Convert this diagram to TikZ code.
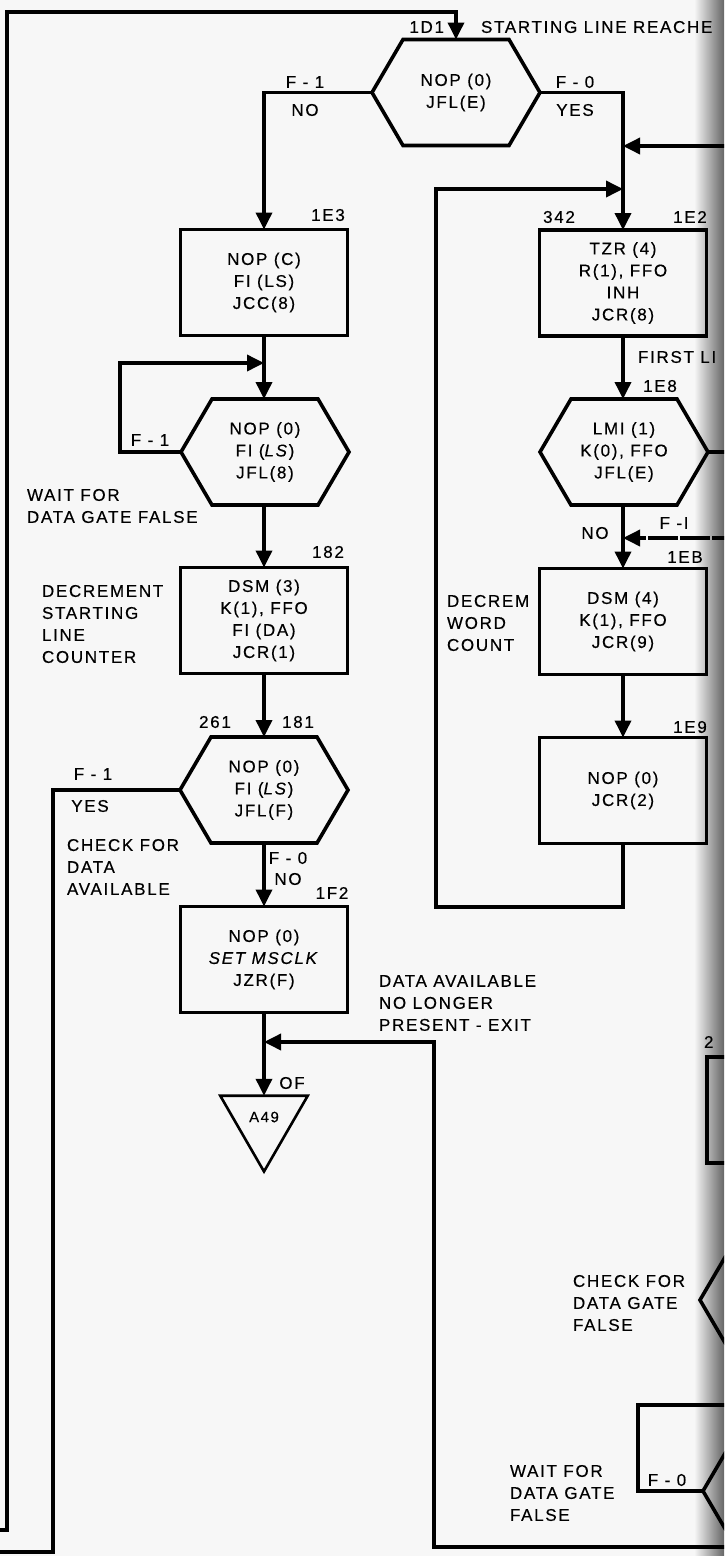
\documentclass[tikz,border=0pt]{standalone}
\usepackage{fontspec}
\setmainfont{Liberation Sans}[LetterSpace=10,FakeBold=0.35]
\usetikzlibrary{arrows.meta,shapes.geometric}
\newcommand\hexdraw[1]{%
  \draw[ln] (#1.north west) -- (#1.north east) -- ([xshift=31pt]#1.east) -- (#1.south east)
    -- (#1.south west) -- ([xshift=-31pt]#1.west) -- cycle;
  \coordinate (#1W) at ([xshift=-31pt]#1.west);
  \coordinate (#1E) at ([xshift=31pt]#1.east);}
\begin{document}
\begin{tikzpicture}[x=1pt,y=-1pt,
  every node/.style={font=\fontsize{17}{22}\selectfont, inner sep=0pt, outer sep=0pt},
  ln/.style={line width=3.6pt, line join=miter, line cap=rect},
  arr/.style={ln, -{Triangle[length=17pt,width=16pt]}},
  box/.style={draw, line width=3.6pt, minimum width=167pt, minimum height=106pt, align=center},
  hexc/.style={minimum width=106pt, minimum height=106pt, align=center},
  lbl/.style={align=left, anchor=west},
  lab/.style={anchor=center},
]
\useasboundingbox (0,0) rectangle (724,1556);
\clip (0,0) rectangle (724,1556);
\fill[white!97!black] (0,0) rectangle (724,1556);
\shade[left color=white!97!black, right color=black!60] (694,0) rectangle (724,1556);

% ---------- left column ----------
\node[hexc] (h1) at (456,92.5) {NOP (0)\\JFL(E)};
\hexdraw{h1}
\node[box] (b1e3) at (264,282.5) {NOP (C)\\FI (LS)\\JCC(8)};
\node[hexc] (h2) at (265,452) {NOP (0)\\FI (\textit{LS})\\JFL(8)};
\hexdraw{h2}
\node[box] (b182) at (264,620.5) {DSM (3)\\K(1), FFO\\FI (DA)\\JCR(1)};
\node[hexc] (h3) at (264,790) {NOP (0)\\FI (\textit{LS})\\JFL(F)};
\hexdraw{h3}
\node[box] (b1f2) at (264,959.5) {NOP (0)\\\textit{SET MSCLK}\\JZR(F)};
\node[draw, line width=2.6pt, regular polygon, regular polygon sides=3, shape border rotate=180,
      minimum size=101pt] (a49) at (264,1121) {};
\node[font=\fontsize{15}{16}\selectfont] (a49t) at (264,1117) {A49};

% ---------- right column ----------
\node[box] (b1e2) at (623,283) {TZR (4)\\R(1), FFO\\INH\\JCR(8)};
\node[hexc] (h4) at (624,452) {LMI (1)\\K(0), FFO\\JFL(E)};
\hexdraw{h4}
\node[box] (b1eb) at (623,621.5) {DSM (4)\\K(1), FFO\\JCR(9)};
\node[box] (b1e9) at (623,790.5) {NOP (0)\\JCR(2)};
\node[draw, line width=3.6pt, minimum width=60pt, minimum height=106pt, anchor=north west] (b23) at (707,1057) {};

% ---------- coordinates ----------
\coordinate (bl0) at (0,1530);
\coordinate (bl) at (7,1530);
\coordinate (tl) at (7,12);
\coordinate (inR1) at (740,146);
\coordinate (lr1) at (436,907);
\coordinate (lr2) at (436,189);
\coordinate (lp2) at (120,363);
\coordinate (yl) at (53,1552);
\coordinate (yl0) at (0,1552);
\coordinate (ex0) at (740,1547);
\coordinate (ex1) at (434,1547);
\coordinate (ex2) at (434,1042);
\coordinate (h4out) at (740,452);
\coordinate (dr) at (740,538);
\coordinate (h5a) at (731,1247);
\coordinate (h5W) at (700,1300);
\coordinate (h5b) at (731,1353);
\coordinate (lb0) at (740,1405);
\coordinate (lb1) at (638,1405);
\coordinate (lb2) at (638,1491);
\coordinate (h6W) at (703,1491);
\coordinate (h6a) at (734,1438);
\coordinate (h6b) at (734,1544);

% ---------- connectors ----------
\draw[arr] (bl0) -- (bl) -- (tl) -- (tl -| h1.north) -- (h1.north);
\draw[arr] (h1W) -| (b1e3.north);
\draw[arr] (h1E) -| (b1e2.north);
\draw[arr] (inR1) -- (inR1 -| b1e2.north);
\draw[arr] (b1e9.south) |- (lr1) -- (lr2) -- (lr2 -| b1e2.north);
\draw[arr] (b1e3.south) -- (h2.north -| b1e3.south);
\draw[arr] (h2W) -| (lp2) -- (lp2 -| b1e3.south);
\draw[arr] (h2.south -| b182.north) -- (b182.north);
\draw[arr] (b182.south) -- (h3.north);
\draw[ln] (h3W) -| (yl) -- (yl0);
\draw[arr] (h3.south) -- (b1f2.north);
\draw[arr] (b1f2.south) -- (a49.north);
\draw[arr] (ex0) -- (ex1) -- (ex2) -- (ex2 -| b1f2.south);
\draw[arr] (b1e2.south) -- (h4.north -| b1e2.south);
\draw[ln] (h4E) -- (h4out);
\draw[arr] (h4.south -| b1eb.north) -- (b1eb.north);
\draw[arr, dash pattern=on 26pt off 6pt] (dr) -- (dr -| b1eb.north);
\draw[arr] (b1eb.south) -- (b1e9.north);
\draw[ln] (h5a) -- (h5W) -- (h5b);
\draw[ln] (lb0) -- (lb1) -- (lb2) -- (h6W);
\draw[ln] (h6a) -- (h6W) -- (h6b);

% ---------- labels ----------
\node[anchor=east] (l1d1) at (444,27) {1D1};
\node[anchor=west] (lstart) at (481,27) {STARTING LINE REACHE};
\node[lab] (lf1a) at (305,82) {F - 1};
\node[lab] (lnoa) at (305,110) {NO};
\node[lab] (lf0a) at (575,82) {F - 0};
\node[lab] (lyesa) at (575,110) {YES};
\node[lab] (l1e3) at (328,215) {1E3};
\node[lab] (l342) at (559,217) {342};
\node[lab] (l1e2) at (690,217) {1E2};
\node[lab] (lf1b) at (150,440) {F - 1};
\node[lbl] (lwait) at (27,506) {WAIT FOR\\DATA GATE FALSE};
\node[lab] (l182) at (328,552) {182};
\node[lbl] (ldec) at (42,624) {DECREMENT\\STARTING\\LINE\\COUNTER};
\node[lab] (l261) at (215,722) {261};
\node[lab] (l181) at (298,722) {181};
\node[lab] (lf1c) at (93,774) {F - 1};
\node[lab] (lyesc) at (90,806) {YES};
\node[lbl] (lcheck) at (67,867) {CHECK FOR\\DATA\\AVAILABLE};
\node[lab] (lf0c) at (288,858) {F - 0};
\node[lab] (lnoc) at (288,879) {NO};
\node[lab] (l1f2) at (332,893) {1F2};
\node[lbl] (ldav) at (379,1003) {DATA AVAILABLE\\NO LONGER\\PRESENT - EXIT};
\node[lab] (lof) at (292,1083) {OF};
\node[anchor=west] (lfirst) at (638,357) {FIRST LI};
\node[lab] (l1e8) at (660,386) {1E8};
\node[lab] (lnod) at (595,533) {NO};
\node[lab] (lf1d) at (674,523) {F -I};
\node[lab] (l1eb) at (685,557) {1EB};
\node[lbl] (ldecw) at (447,623) {DECREM\\WORD\\COUNT};
\node[lab] (l1e9) at (690,727) {1E9};
\node[anchor=west] (l23) at (704,1042) {2};
\node[lbl] (lcheckg) at (573,1303) {CHECK FOR\\DATA GATE\\FALSE};
\node[lbl] (lwaitg) at (510,1493) {WAIT FOR\\DATA GATE\\FALSE};
\node[lab] (lf0g) at (667,1480) {F - 0};
\end{tikzpicture}
\end{document}
